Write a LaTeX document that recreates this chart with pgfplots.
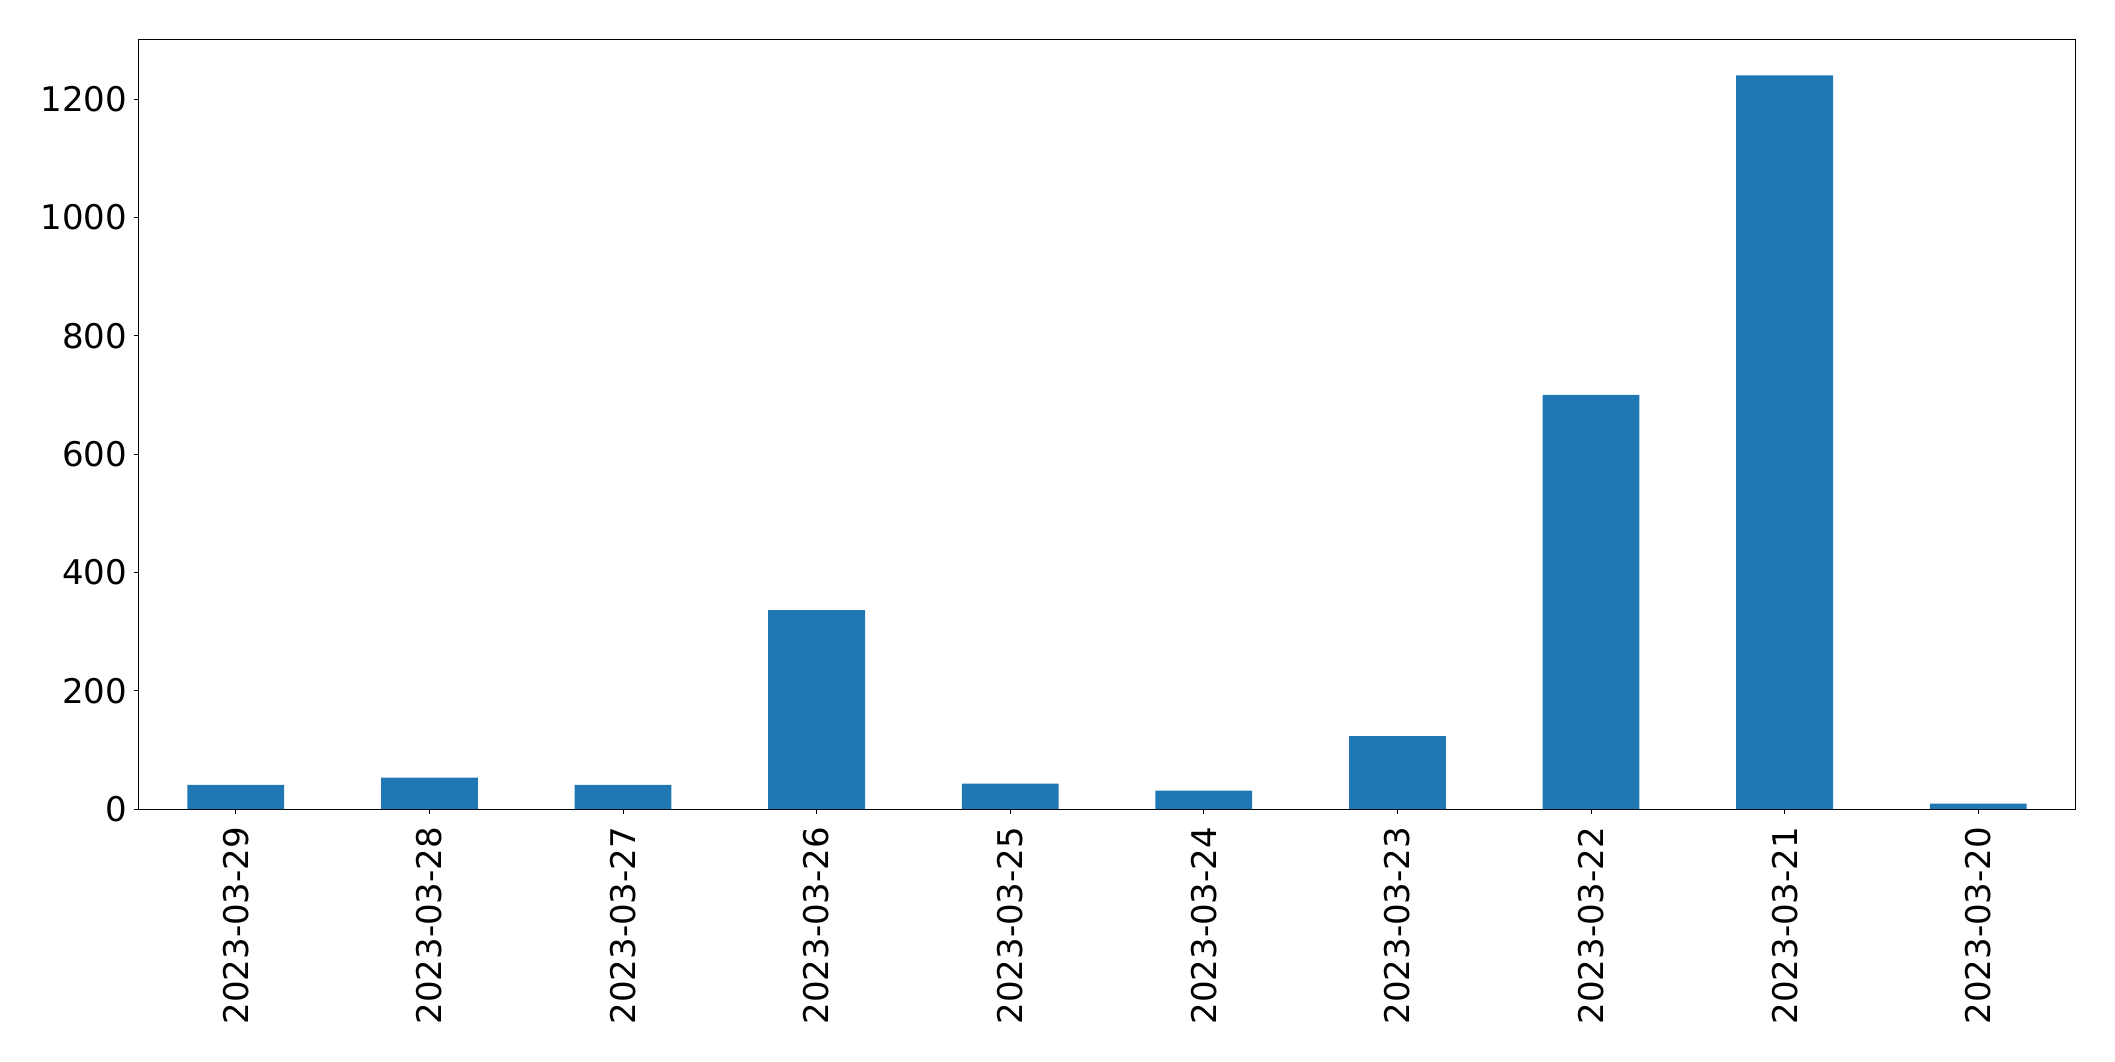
\documentclass[border=0pt]{standalone}
\usepackage{pgfplots}
\pgfplotsset{compat=1.18}
\usepackage{fontspec}
\setmainfont{DejaVu Sans}
\definecolor{tabblue}{HTML}{1F77B4}
\begin{document}
\begin{tikzpicture}
\begin{axis}[
  scale only axis,
  width=968pt, height=384.5pt,
  xmin=-0.5, xmax=9.5,
  ymin=0, ymax=1300,
  xtick={0,...,9},
  xticklabels={2023-03-29,2023-03-28,2023-03-27,2023-03-26,2023-03-25,2023-03-24,2023-03-23,2023-03-22,2023-03-21,2023-03-20},
  ytick={0,200,400,600,800,1000,1200},
  tick align=outside,
  xtick pos=bottom, ytick pos=left,
  major tick length=2.4pt,
  tick style={black, line width=0.5pt},
  axis line style={black, line width=0.5pt},
  /pgf/number format/assume math mode=true,
  /pgf/number format/1000 sep={},
  ticklabel style={font=\fontsize{17}{20}\selectfont},
  xticklabel style={rotate=90, anchor=east},
  xticklabel shift=3pt,
  yticklabel style={anchor=east},
]
\addplot[ybar, bar width=0.5, fill=tabblue, draw=none] coordinates {
  (0,41) (1,53) (2,41) (3,336) (4,43) (5,31) (6,123) (7,700) (8,1240) (9,9)
};
\end{axis}
\pgfresetboundingbox
\path ([shift={(-69.5pt,-126pt)}]current axis.south west) rectangle ([shift={(20pt,20pt)}]current axis.north east);
\end{tikzpicture}
\end{document}
